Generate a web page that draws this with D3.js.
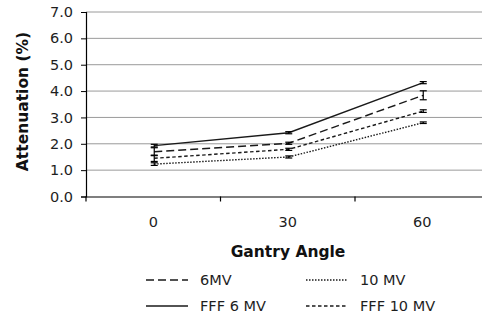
<!DOCTYPE html>
<html><head><meta charset="utf-8">
<script src="https://cdn.jsdelivr.net/npm/d3@7"></script>
<style>body{margin:0;background:#fff}svg{display:block}</style>
</head><body>
<svg id="c" width="482" height="320"></svg>
<script>
const categories = ["0", "30", "60"];
const yTicks = [0, 1, 2, 3, 4, 5, 6, 7];
const seriesNames = ["6MV", "10 MV", "FFF 6 MV", "FFF 10 MV"];
const v6MV = [1.70, 2.02, 3.84];
const v10MV = [1.23, 1.50, 2.80];
const vFFF6 = [1.93, 2.42, 4.32];
const vFFF10 = [1.45, 1.79, 3.24];
const e6MV = [0.15, 0.04, 0.17];
const e10MV = [0.05, 0.04, 0.03];
const eFFF6 = [0.05, 0.04, 0.04];
const eFFF10 = [0.12, 0.04, 0.05];

const series = [
  {name: seriesNames[0], values: v6MV, err: e6MV, dash: "8,4"},
  {name: seriesNames[1], values: v10MV, err: e10MV, dash: "1.5,1.5"},
  {name: seriesNames[2], values: vFFF6, err: eFFF6, dash: null},
  {name: seriesNames[3], values: vFFF10, err: eFFF10, dash: "3.5,2.5"}
];

const svg = d3.select("#c");
const font = "'DejaVu Sans', Verdana, sans-serif";
const x = d3.scaleBand().domain(categories).range([86, 489.5]);
const y = d3.scaleLinear().domain([0, 7]).range([196.5, 12]);
const cx = d => x(d) + x.bandwidth() / 2;

// gridlines
svg.append("g").selectAll("line").data(yTicks.slice(1)).join("line")
  .attr("x1", 86).attr("x2", 489.5)
  .attr("y1", d => y(d)).attr("y2", d => y(d))
  .attr("stroke", "#9a9a9a").attr("stroke-width", 1);

// y axis
const ya = svg.append("g").attr("transform", "translate(86,0)")
  .call(d3.axisLeft(y).tickValues(yTicks).tickFormat(d3.format(".1f")).tickSize(5).tickPadding(8));
ya.select(".domain").attr("stroke", "#000").attr("stroke-width", 1.2);
ya.selectAll(".tick line").attr("stroke", "#000");
ya.selectAll("text").attr("font-family", font).attr("font-size", 14.5).attr("fill", "#1e1e1e");

// x axis
const xa = svg.append("g").attr("transform", `translate(0,${y(0)})`)
  .call(d3.axisBottom(x).tickSize(0).tickPadding(20));
xa.select(".domain").attr("stroke", "#000").attr("stroke-width", 1.2);
xa.selectAll("text").attr("font-family", font).attr("font-size", 14.5).attr("fill", "#1e1e1e");
xa.selectAll("line.bt").data(categories).join("line").attr("class", "bt")
  .attr("x1", d => x(d)).attr("x2", d => x(d)).attr("y1", 0).attr("y2", 5)
  .attr("stroke", "#000").attr("stroke-width", 1.2);

// lines
const line = d3.line().x((d, i) => cx(categories[i]) + 1).y(d => y(d));
series.forEach(s => {
  svg.append("path").datum(s.values).attr("d", line)
    .attr("fill", "none").attr("stroke", "#1a1a1a").attr("stroke-width", 1.4)
    .attr("stroke-dasharray", s.dash);
  const g = svg.append("g");
  s.values.forEach((v, i) => {
    const px = cx(categories[i]) + 1;
    const e = s.err[i];
    g.append("line").attr("x1", px).attr("x2", px).attr("y1", y(v - e)).attr("y2", y(v + e))
      .attr("stroke", "#000").attr("stroke-width", 1.2);
    [v - e, v + e].forEach(t => g.append("line").attr("x1", px - 3.5).attr("x2", px + 3.5)
      .attr("y1", y(t)).attr("y2", y(t)).attr("stroke", "#000").attr("stroke-width", 1.2));
  });
});

// axis titles
svg.append("text").attr("x", 288).attr("y", 257).attr("text-anchor", "middle")
  .attr("font-family", font).attr("font-weight", "bold").attr("font-size", 15.5).attr("fill", "#111")
  .text("Gantry Angle");
svg.append("text").attr("transform", "translate(28,101.5) rotate(-90)").attr("text-anchor", "middle")
  .attr("font-family", font).attr("font-weight", "bold").attr("font-size", 15.5).attr("fill", "#111")
  .text("Attenuation (%)");

// legend
const legPos = [[146, 280], [306, 280], [146, 306], [306, 306]];
series.forEach((s, i) => {
  const [lx, ly] = legPos[i];
  svg.append("line").attr("x1", lx).attr("x2", lx + 42).attr("y1", ly).attr("y2", ly)
    .attr("stroke", "#1a1a1a").attr("stroke-width", 1.4).attr("stroke-dasharray", s.dash);
  svg.append("text").attr("x", lx + 54).attr("y", ly + 5.2).attr("font-family", font)
    .attr("font-size", 14.5).attr("fill", "#1e1e1e").text(s.name);
});
</script>
</body></html>
